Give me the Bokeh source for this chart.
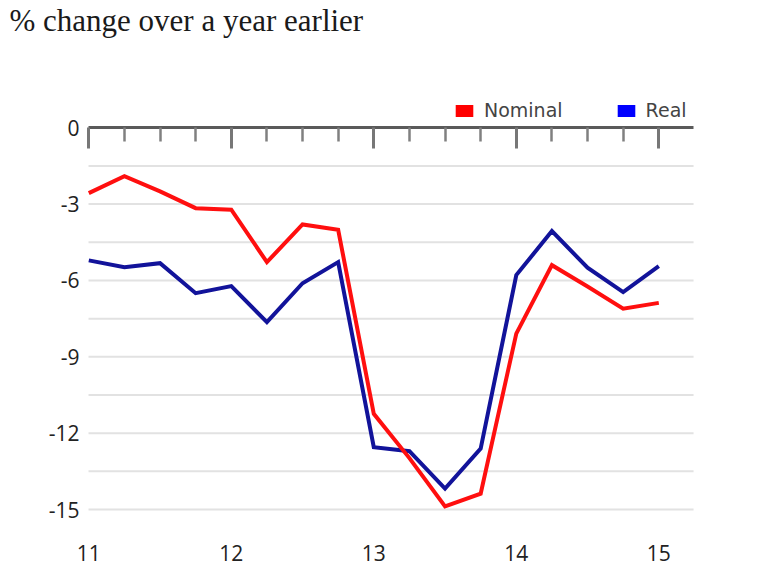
from bokeh.plotting import figure
from bokeh.models import (Range1d, LinearAxis, FixedTicker, Label, Legend,
                          LegendItem)
from bokeh.embed import file_html
from bokeh.resources import INLINE

# ---- data ----
quarters = [2011.0, 2011.25, 2011.5, 2011.75, 2012.0, 2012.25, 2012.5, 2012.75,
            2013.0, 2013.25, 2013.5, 2013.75, 2014.0, 2014.25, 2014.5, 2014.75,
            2015.0]
nominal = [-2.57, -1.90, -2.50, -3.16, -3.22, -5.28, -3.80, -4.01,
           -11.24, -12.98, -14.88, -14.38, -8.09, -5.40, -6.24, -7.11, -6.88]
real = [-5.21, -5.48, -5.32, -6.50, -6.22, -7.64, -6.11, -5.28,
        -12.55, -12.71, -14.18, -12.61, -5.79, -4.06, -5.50, -6.46, -5.44]
series_names = ["Nominal", "Real"]
year_ticks = [2011, 2012, 2013, 2014, 2015]
year_labels = ["11", "12", "13", "14", "15"]
y_ticks = [0, -3, -6, -9, -12, -15]
y_labels = ["0", "-3", "-6", "-9", "-12", "-15"]
grid_levels = [-1.5, -3, -4.5, -6, -7.5, -9, -10.5, -12, -13.5, -15]
title_text = "% change over a year earlier"

# ---- layout constants (plot area extents in data units) ----
AX_X0, AX_X1 = 2010.998, 2015.244
RED = "#ff0f0f"
BLUE = "#12139a"
NAN = float("nan")

p = figure(width=757, height=568,
           x_range=Range1d(2010.3804, 2015.6927),
           y_range=Range1d(-17.318, 5.0),
           output_backend="svg", toolbar_location=None,
           x_axis_location=None, y_axis_location=None,
           min_border=0)
p.outline_line_color = None
p.background_fill_color = "white"
p.border_fill_color = "white"
p.xgrid.visible = False
p.ygrid.visible = False

# horizontal gridlines, limited to the plotting area
p.segment(x0=AX_X0, x1=AX_X1, y0=grid_levels, y1=grid_levels,
          line_color="#e2e2e2", line_width=2)

# left axis (labels only)
ya = LinearAxis(fixed_location=AX_X0, ticker=FixedTicker(ticks=y_ticks))
ya.major_label_overrides = {t: l for t, l in zip(y_ticks, y_labels)}
ya.axis_line_color = None
ya.major_tick_line_color = None
ya.minor_tick_line_color = None
ya.major_tick_in = 0
ya.major_tick_out = 0
ya.major_label_standoff = 9
ya.major_label_text_font = "Open Sans"
ya.major_label_text_font_size = "21px"
ya.major_label_text_color = "#222222"
p.add_layout(ya, "left")

# bottom axis (labels only)
xa = LinearAxis(fixed_location=-15.52, ticker=FixedTicker(ticks=year_ticks))
xa.major_label_overrides = {t: l for t, l in zip(year_ticks, year_labels)}
xa.axis_line_color = None
xa.major_tick_line_color = None
xa.minor_tick_line_color = None
xa.major_tick_in = 0
xa.major_tick_out = 0
xa.major_label_standoff = 22
xa.major_label_text_font = "Open Sans"
xa.major_label_text_font_size = "21px"
xa.major_label_text_color = "#222222"
p.add_layout(xa, "below")

# top axis line at zero with inward ticks
minor_q = [q for q in quarters if q not in year_ticks]
top = LinearAxis(fixed_location=0, bounds=(AX_X0, AX_X1),
                 ticker=FixedTicker(ticks=year_ticks, minor_ticks=minor_q))
top.axis_line_color = "#5a5a5a"
top.axis_line_width = 3
top.major_tick_in = 21
top.major_tick_out = 0
top.major_tick_line_color = "#777777"
top.major_tick_line_width = 3
top.minor_tick_in = 14
top.minor_tick_out = 0
top.minor_tick_line_color = "#808080"
top.minor_tick_line_width = 2.5
top.major_label_text_color = None
top.major_label_text_font_size = "1px"
top.major_label_standoff = 0
p.add_layout(top, "above")

# lines
p.line(quarters, real, line_color=BLUE, line_width=4, line_join="miter")
p.line(quarters, nominal, line_color=RED, line_width=4, line_join="miter")

# legend swatches (proxy renderers with no visible point)
sw_red = p.rect(x=[NAN], y=[NAN], width=1, height=1,
                fill_color="#ff0000", line_color=None)
sw_blue = p.rect(x=[NAN], y=[NAN], width=1, height=1,
                 fill_color="#0000ff", line_color=None)
legend = Legend(items=[LegendItem(label=series_names[0], renderers=[sw_red], index=0),
                       LegendItem(label=series_names[1], renderers=[sw_blue], index=0)],
                orientation="horizontal", location=(453, 447),
                glyph_width=22, glyph_height=15, label_standoff=9, spacing=52,
                padding=0, margin=0, border_line_color=None,
                background_fill_alpha=0,
                label_text_font="DejaVu Sans", label_text_font_size="19px",
                label_text_color="#444444")
p.add_layout(legend, "center")

# title
p.add_layout(Label(x=9, y=568 - 19.5, x_units="screen", y_units="screen",
                   text=title_text, text_align="left",
                   text_baseline="alphabetic", text_font="Liberation Serif",
                   text_font_size="31px", text_color="#1a1a1a"))

open("out.html", "w").write(file_html(p, INLINE))
